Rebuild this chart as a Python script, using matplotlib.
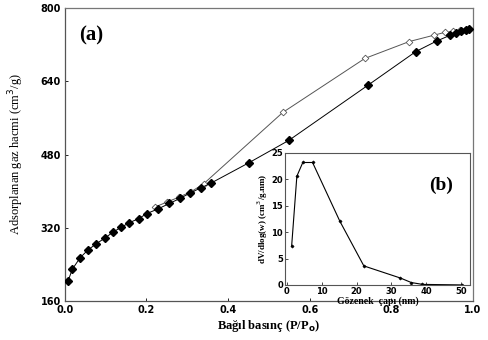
"""Azot adsorpsiyon/desorpsiyon izotermi (a) ve gözenek boyut dağılımı (b)."""
import matplotlib
matplotlib.use("Agg")
import matplotlib.pyplot as plt

# ── (a) izoterm verisi ──
ads_p = [0.008, 0.018, 0.037, 0.056, 0.077, 0.099, 0.119, 0.138, 0.158, 0.181,
         0.201, 0.228, 0.256, 0.282, 0.307, 0.333, 0.357, 0.451, 0.549, 0.742,
         0.860, 0.911, 0.945, 0.958, 0.972, 0.984, 0.990]
ads_v = [204, 229, 254, 271, 285, 298, 311, 321, 331, 340,
         351, 361, 373, 384, 396, 407, 417, 462, 511, 631,
         705, 728, 741, 745, 749, 752, 754]

des_p = [0.990, 0.980, 0.968, 0.952, 0.931, 0.905, 0.844, 0.735, 0.534, 0.340,
         0.310, 0.280, 0.250, 0.220]
des_v = [755, 753, 752, 749, 747, 741, 727, 690, 572, 416,
         399, 387, 376, 365]

# ── (b) gözenek boyut dağılımı ──
pore_d = [1.4, 2.9, 4.6, 7.4, 15.2, 22.1, 32.6, 35.7, 38.9, 50.3]
pore_dv = [7.3, 20.6, 23.2, 23.2, 12.1, 3.6, 1.3, 0.45, 0.1, 0.0]

SERIF = "Liberation Serif"
tick_font = dict(family="DejaVu Sans", weight="bold", size=7)

fig = plt.figure(figsize=(4.88, 3.40), dpi=100)
ax = fig.add_axes([0.133, 0.115, 0.836, 0.861])

ax.plot(des_p, des_v, color="#555555", lw=0.7, marker="D", ms=3.4,
        mfc="white", mec="#555555", mew=0.6, zorder=2)
ax.plot(ads_p, ads_v, color="black", lw=0.7, marker="D", ms=3.6,
        mfc="black", mec="black", zorder=3)

ax.set_xlim(0, 1.0)
ax.set_ylim(160, 800)
ax.set_xticks([0.0, 0.2, 0.4, 0.6, 0.8, 1.0])
ax.set_yticks([160, 320, 480, 640, 800])
ax.set_xticklabels([f"{t:.1f}" for t in ax.get_xticks()], **tick_font)
ax.set_yticklabels([f"{t:d}" for t in [160, 320, 480, 640, 800]], **tick_font)
ax.tick_params(direction="in", length=2.5, width=0.6, pad=3)
for s in ("top", "right"):
    ax.spines[s].set_color("#777777")
for s in ("left", "bottom"):
    ax.spines[s].set_color("#555555")
for s in ax.spines.values():
    s.set_linewidth(0.9)

ax.set_xlabel("Bağıl basınç (P/P$_\\mathbf{o}$)", family=SERIF, weight="bold",
              fontsize=9, labelpad=2)
ax.set_ylabel("Adsorplanan gaz hacmi (cm$^3$/g)", family=SERIF, fontsize=9,
              labelpad=10)
ax.text(0.035, 0.89, "(a)", transform=ax.transAxes, family=SERIF,
        weight="bold", fontsize=15)

# ── inset (b) ──
ins = fig.add_axes([0.584, 0.162, 0.379, 0.388])
ins.plot(pore_d, pore_dv, color="black", lw=0.8, marker="D", ms=1.6, mew=0.5)
ins.set_xlim(-0.5, 52.5)
ins.set_ylim(0, 25)
ins.set_xticks([0, 10, 20, 30, 40, 50])
ins.set_yticks([0, 5, 10, 15, 20, 25])
small_font = dict(family="DejaVu Sans", weight="bold", size=6)
ins.set_xticklabels(["0", "10", "20", "30", "40", "50"], **small_font)
ins.set_yticklabels(["0", "5", "10", "15", "20", "25"], **small_font)
ins.tick_params(direction="in", length=2, width=0.5, pad=1.5)
for s in ins.spines.values():
    s.set_color("#555555")
    s.set_linewidth(0.8)
ins.set_xlabel("Gözenek  çapı (nm)", family=SERIF, weight="bold",
               fontsize=7, labelpad=0)
ins.set_ylabel("dV/dlog(w) (cm$^3$/g.nm)", family=SERIF, weight="bold",
               fontsize=6.5, labelpad=1)
ins.text(0.78, 0.72, "(b)", transform=ins.transAxes, family=SERIF,
         weight="bold", fontsize=14)

fig.savefig("out.png", dpi=100)
